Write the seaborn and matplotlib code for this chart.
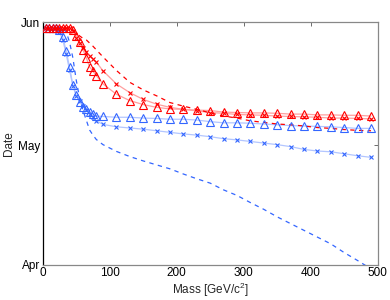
import matplotlib
matplotlib.use("Agg")
import matplotlib.pyplot as plt
import seaborn as sns

mass = [5, 10, 15, 20, 25, 30, 35, 40, 45, 50, 55, 60, 65, 70, 75, 80, 90,
        110, 130, 150, 170, 190, 210, 230, 250, 270, 290, 310, 330, 350, 370,
        390, 410, 430, 450, 470, 490]

# Dates in days after April 1 (Apr=0, May=30, Jun=61)
red_tri = [59.6, 59.6, 59.6, 59.6, 59.6, 59.6, 59.6, 59.6, 59.1, 57.7, 56.1, 54.1,
           52.1, 49.8, 48.7, 47.6, 45.5, 42.9, 41.3, 40.3, 39.6, 39.2, 39.1, 38.9,
           38.8, 38.4, 38.3, 38.2, 38.2, 38.1, 37.9, 37.9, 37.7, 37.7, 37.6, 37.6, 37.4]
red_x = [59.6, 59.6, 59.6, 59.6, 59.6, 59.6, 59.6, 59.6, 58.9, 57.1, 55.8, 54.6,
         53.6, 52.6, 51.8, 51.0, 48.8, 45.5, 43.3, 41.6, 40.4, 39.6, 39.1, 38.7,
         38.3, 38.1, 37.8, 37.7, 37.6, 37.4, 37.3, 37.2, 37.1, 36.9, 36.9, 36.8, 36.7]
red_dash = [59.6, 59.6, 59.6, 59.6, 59.6, 59.6, 59.6, 59.4, 59.0, 58.4, 57.6, 57.0,
            56.6, 55.8, 55.0, 54.1, 52.3, 48.9, 45.9, 44.0, 42.5, 40.8, 39.9, 39.1,
            38.2, 37.4, 36.9, 36.2, 35.8, 35.4, 35.2, 34.9, 34.5, 34.3, 34.0, 33.8, 33.7]
blue_tri = [59.6, 59.6, 59.6, 59.6, 59.1, 57.3, 53.8, 49.8, 45.2, 42.7, 41.0, 39.8,
            39.1, 38.5, 37.9, 37.4, 37.3, 37.1, 37.1, 36.9, 36.8, 36.6, 36.6, 36.4,
            36.0, 35.7, 35.7, 35.6, 35.4, 35.2, 35.0, 34.9, 34.8, 34.7, 34.5, 34.3, 34.3]
blue_x = [59.6, 59.6, 59.6, 59.6, 58.6, 56.6, 53.1, 49.0, 45.0, 42.5, 41.2, 40.0,
          39.0, 37.9, 37.1, 36.2, 35.3, 34.7, 34.4, 34.1, 33.7, 33.3, 32.9, 32.6,
          32.2, 31.7, 31.4, 31.0, 30.6, 30.2, 29.7, 29.0, 28.6, 28.4, 27.9, 27.4, 27.0]
blue_dash = [59.6, 59.6, 59.6, 59.6, 59.6, 59.4, 58.6, 56.1, 52.1, 46.5, 42.0, 38.9,
             36.4, 33.9, 32.6, 31.5, 30.2, 28.5, 27.2, 26.1, 25.1, 24.1, 22.8, 21.6,
             20.5, 18.8, 17.4, 15.6, 13.9, 12.0, 10.3, 8.6, 6.9, 5.2, 3.0, 1.0, -1.1]

ytick_vals = [0, 30, 61]
ytick_labels = ["Apr", "May", "Jun"]
xtick_vals = [0, 100, 200, 300, 400, 500]

sns.set_style("white")
plt.rcParams["font.family"] = ["Liberation Sans", "DejaVu Sans"]
plt.rcParams["mathtext.default"] = "regular"

RED = "#ff0000"
BLUE = "#3366ff"
LRED = "#ff9f9f"
LBLUE = "#b3c6ff"

fig = plt.figure(figsize=(3.9, 3.0), dpi=100)
ax = fig.add_axes([0.1095, 0.1183, 0.859, 0.807])

def series(y, col, lcol, marker, ms):
    sns.lineplot(x=mass, y=y, ax=ax, color=lcol, linewidth=0.9, zorder=2)
    sns.lineplot(x=mass, y=y, ax=ax, color=col, linestyle="", marker=marker,
                 markersize=ms, markerfacecolor="none", markeredgecolor=col,
                 markeredgewidth=0.8, zorder=3)

series(blue_tri, BLUE, LBLUE, "^", 5.5)
series(blue_x, BLUE, LBLUE, "x", 3.5)
sns.lineplot(x=mass, y=blue_dash, ax=ax, color=BLUE, linewidth=0.9,
             linestyle=(0, (3.5, 3.5)), zorder=2)
series(red_x, RED, LRED, "x", 3.5)
series(red_tri, RED, LRED, "^", 5.5)
sns.lineplot(x=mass, y=red_dash, ax=ax, color=RED, linewidth=0.9,
             linestyle=(0, (3.5, 3.5)), zorder=2)

ax.set_xlim(0, 500)
ax.set_ylim(0, 61)
ax.set_xticks(xtick_vals)
ax.set_yticks(ytick_vals)
ax.set_yticklabels(ytick_labels)
ax.tick_params(direction="in", length=3, width=0.6, labelsize=8.5,
               top=True, right=True, colors="#555555", labelcolor="black", pad=2)
for name, sp in ax.spines.items():
    sp.set_visible(True)
    sp.set_linewidth(0.9)
    sp.set_color("#888888")
ax.spines["left"].set_color("black")
ax.set_xlabel("Mass [GeV/c$^2$]", fontsize=8.5, labelpad=1)
ax.set_ylabel("Date", fontsize=8.5, labelpad=2)

fig.savefig("out.png", dpi=100)
